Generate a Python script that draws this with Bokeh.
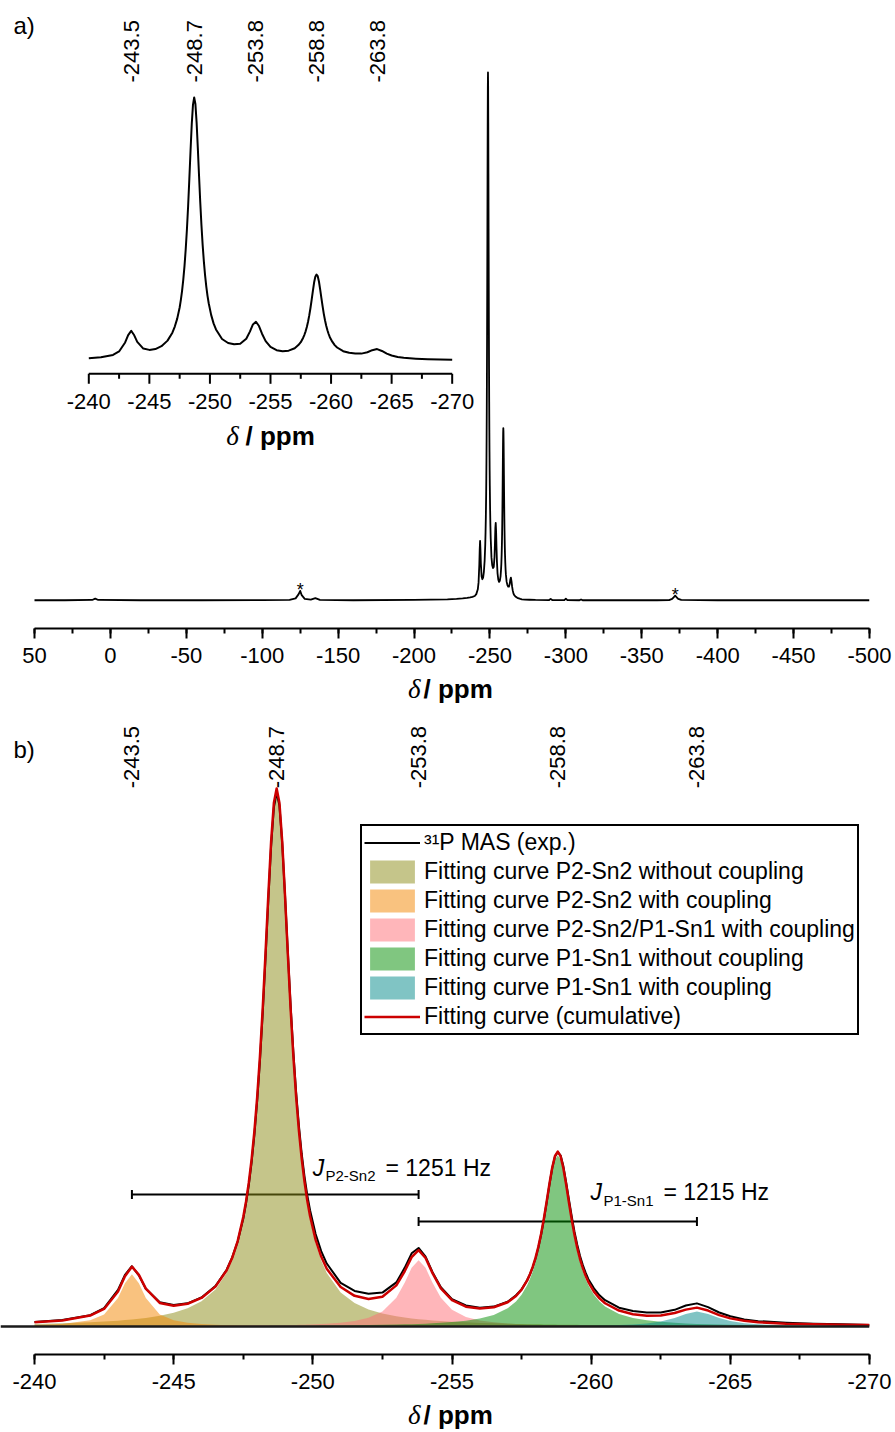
import numpy as np
from bokeh.plotting import figure
from bokeh.models import (Range1d, SingleIntervalTicker, Label, Legend, LegendItem,
                          Span, Whisker, ColumnDataSource, TeeHead, PrintfTickFormatter)
from bokeh.layouts import column
from bokeh.core.properties import value
from bokeh.embed import file_html
from bokeh.resources import INLINE

SANS = "Liberation Sans"
SERIF = "Liberation Serif"
W = 893

# ---------------- data ----------------
# chemical shift grid of the -240 ... -270 ppm region (ppm)
shift_b = [-240, -241, -242, -242.5, -243, -243.25, -243.5, -243.75, -244, -244.5, -245, -245.5, -246,
           -246.5, -246.9, -247.1, -247.3, -247.5, -247.6, -247.7, -247.8, -247.9, -248.0, -248.1,
           -248.2, -248.3, -248.4, -248.5, -248.6, -248.7, -248.8, -248.9, -249.0, -249.1, -249.2,
           -249.3, -249.4, -249.5, -249.6, -249.7, -249.8, -249.9, -250.1, -250.3, -250.5, -251,
           -251.5, -252, -252.5, -253, -253.3, -253.55, -253.8, -254.05, -254.3, -254.6, -255,
           -255.5, -256, -256.5,
           -257, -257.3, -257.5, -257.7, -257.8, -257.9, -258.0, -258.1, -258.2, -258.3, -258.4,
           -258.5, -258.6, -258.7, -258.8, -258.9, -259.0, -259.1, -259.2, -259.3, -259.4, -259.5,
           -259.6, -259.7, -259.8, -259.9, -260.1, -260.3, -260.5,
           -261, -261.5, -262, -262.5, -263, -263.4, -263.8, -264.2, -264.6, -265, -265.5, -266,
           -267, -268, -269, -270]

# experimental 31P MAS intensity (normalised)
exp_b = [0.85, 1.2, 2.1, 3.4, 6.8, 9.6, 11.2, 9.5, 7.0, 4.5, 4.0, 4.3, 5.4,
         7.5, 10.5, 12.8, 15.8, 20.0, 22.9, 26.3, 30.5, 35.6, 41.9, 49.4,
         58.3, 68.5, 79.2, 89.2, 96.4, 99.2, 96.8, 89.8, 80.2, 69.8, 59.8,
         51.0, 43.5, 37.3, 32.1, 27.9, 24.4, 21.6, 17.2, 14.0, 11.7, 8.1,
         6.6, 6.1, 6.3, 8.2, 10.9, 13.6, 14.6, 13.0, 10.1, 7.3, 5.1,
         3.9, 3.5, 3.7,
         4.6, 5.8, 6.9, 8.6, 9.7, 11.0, 12.6, 14.6, 17.0, 19.8, 23.0,
         26.3, 29.4, 31.6, 32.4, 31.8, 29.8, 26.8, 23.6, 20.5, 17.6, 15.2,
         13.1, 11.4, 10.0, 8.8, 7.1, 5.8, 4.9,
         3.5, 2.9, 2.6, 2.6, 3.1, 3.9, 4.3, 3.6, 2.6, 1.9, 1.3, 1.0,
         0.7, 0.5, 0.4, 0.3]

# cumulative fitting curve
fit_total = [0.78, 1.13, 2.03, 3.27, 6.51, 9.34, 11.12, 9.60, 7.03, 4.38, 3.85, 4.23, 5.31,
             7.41, 10.42, 12.72, 15.88, 20.33, 23.24, 26.77, 31.05, 36.25, 42.57, 50.19,
             59.16, 69.32, 80.05, 90.00, 97.27, 99.96, 97.28, 90.03, 80.09, 69.38, 59.23,
             50.27, 42.68, 36.37, 31.18, 26.92, 23.41, 20.52, 16.10, 12.99, 10.73, 7.33,
             5.70, 5.12, 5.54, 7.64, 10.26, 12.90, 14.19, 12.73, 9.92, 7.08, 4.89,
             3.69, 3.34, 3.57,
             4.51, 5.66, 6.85, 8.57, 9.70, 11.08, 12.75, 14.78, 17.20, 20.03, 23.20,
             26.50, 29.51, 31.69, 32.49, 31.66, 29.46, 26.42, 23.09, 19.90, 17.05, 14.60,
             12.54, 10.84, 9.43, 8.27, 6.48, 5.23, 4.32,
             2.96, 2.29, 2.01, 2.05, 2.50, 3.14, 3.51, 2.96, 2.12, 1.51, 1.06, 0.80,
             0.53, 0.40, 0.32, 0.26]

# component: P2-Sn2 without coupling
fit_p2sn2 = [0.47, 0.60, 0.79, 0.92, 1.09, 1.19, 1.31, 1.44, 1.60, 1.99, 2.55, 3.38, 4.68,
             6.89, 9.95, 12.27, 15.44, 19.9, 22.81, 26.34, 30.62, 35.82, 42.14, 49.75,
             58.72, 68.88, 79.6, 89.55, 96.81, 99.5, 96.81, 89.55, 79.6, 68.88, 58.72,
             49.75, 42.14, 35.82, 30.62, 26.34, 22.81, 19.9, 15.44, 12.27, 9.95, 6.34,
             4.37, 3.18, 2.42, 1.90, 1.66, 1.50, 1.36, 1.24, 1.13, 1.02, 0.89,
             0.77, 0.67, 0.59,
             0.52, 0.48, 0.46, 0.44, 0.43, 0.42, 0.41, 0.40, 0.40, 0.39, 0.38,
             0.37, 0.36, 0.36, 0.35, 0.34, 0.34, 0.33, 0.32, 0.32, 0.31, 0.31,
             0.30, 0.30, 0.29, 0.29, 0.28, 0.27, 0.26,
             0.24, 0.22, 0.20, 0.19, 0.18, 0.17, 0.16, 0.15, 0.14, 0.14, 0.13, 0.12,
             0.11, 0.10, 0.09, 0.08]

# component: P2-Sn2 with coupling
fit_p2sn2_coupl = [0.23, 0.45, 1.15, 2.25, 5.31, 8.04, 9.7, 8.04, 5.31, 2.25, 1.15, 0.68, 0.45,
                   0.32, 0.25, 0.22, 0.20, 0.18, 0.17, 0.16, 0.16, 0.15, 0.14, 0.14,
                   0.13, 0.13, 0.12, 0.12, 0.11, 0.11, 0.10, 0.10, 0.10, 0.09, 0.09,
                   0.09, 0.08, 0.08, 0.08, 0.08, 0.07, 0.07, 0.07, 0.06, 0.06, 0.05,
                   0.05, 0.04, 0.04, 0.03, 0.03, 0.03, 0.03, 0.03, 0.03, 0.02, 0.02,
                   0.02, 0.02, 0.02,
                   0.02, 0.02, 0.02, 0.02, 0.02, 0.02, 0.01, 0.01, 0.01, 0.01, 0.01,
                   0.01, 0.01, 0.01, 0.01, 0.01, 0.01, 0.01, 0.01, 0.01, 0.01, 0.01,
                   0.01, 0.01, 0.01, 0.01, 0.01, 0.01, 0.01,
                   0.01, 0.01, 0.01, 0.01, 0.01, 0.01, 0.01, 0.01, 0.01, 0.01, 0.01, 0.01,
                   0.01, 0.00, 0.00, 0.00]

# component: P2-Sn2/P1-Sn1 with coupling
fit_mixed_coupl = [0.03, 0.04, 0.04, 0.05, 0.05, 0.05, 0.06, 0.06, 0.06, 0.07, 0.08, 0.09, 0.10,
                   0.11, 0.13, 0.13, 0.14, 0.15, 0.16, 0.16, 0.17, 0.17, 0.18, 0.18,
                   0.19, 0.20, 0.20, 0.21, 0.22, 0.23, 0.24, 0.25, 0.26, 0.27, 0.28,
                   0.29, 0.30, 0.32, 0.33, 0.35, 0.37, 0.38, 0.43, 0.47, 0.53, 0.72,
                   1.04, 1.62, 2.77, 5.33, 8.15, 10.91, 12.3, 10.91, 8.15, 5.33, 3.12,
                   1.78, 1.13, 0.78,
                   0.56, 0.47, 0.43, 0.38, 0.37, 0.35, 0.33, 0.32, 0.30, 0.29, 0.28,
                   0.27, 0.26, 0.25, 0.24, 0.23, 0.22, 0.21, 0.20, 0.20, 0.19, 0.18,
                   0.18, 0.17, 0.17, 0.16, 0.15, 0.14, 0.13,
                   0.12, 0.10, 0.09, 0.08, 0.07, 0.07, 0.06, 0.06, 0.05, 0.05, 0.04, 0.04,
                   0.03, 0.03, 0.03, 0.02]

# component: P1-Sn1 without coupling
fit_p1sn1 = [0.04, 0.04, 0.04, 0.05, 0.05, 0.05, 0.05, 0.05, 0.06, 0.06, 0.06, 0.07, 0.07,
             0.08, 0.09, 0.09, 0.09, 0.10, 0.10, 0.10, 0.10, 0.10, 0.10, 0.11,
             0.11, 0.11, 0.11, 0.12, 0.12, 0.12, 0.12, 0.13, 0.13, 0.13, 0.13,
             0.14, 0.14, 0.14, 0.14, 0.15, 0.15, 0.15, 0.16, 0.17, 0.18, 0.20,
             0.23, 0.26, 0.31, 0.36, 0.40, 0.44, 0.48, 0.53, 0.59, 0.68, 0.83,
             1.08, 1.49, 2.15,
             3.37, 4.64, 5.89, 7.67, 8.83, 10.23, 11.93, 13.98, 16.42, 19.27, 22.45,
             25.77, 28.80, 30.99, 31.8, 30.99, 28.80, 25.77, 22.45, 19.27, 16.42, 13.98,
             11.93, 10.23, 8.83, 7.67, 5.89, 4.64, 3.73,
             2.34, 1.59, 1.15, 0.87, 0.68, 0.57, 0.48, 0.41, 0.36, 0.32, 0.27, 0.23,
             0.18, 0.14, 0.12, 0.10]

# component: P1-Sn1 with coupling
fit_p1sn1_coupl = [0.00, 0.00, 0.00, 0.00, 0.01, 0.01, 0.01, 0.01, 0.01, 0.01, 0.01, 0.01, 0.01,
                   0.01, 0.01, 0.01, 0.01, 0.01, 0.01, 0.01, 0.01, 0.01, 0.01, 0.01,
                   0.01, 0.01, 0.01, 0.01, 0.01, 0.01, 0.01, 0.01, 0.01, 0.01, 0.01,
                   0.01, 0.01, 0.01, 0.01, 0.01, 0.01, 0.01, 0.01, 0.01, 0.01, 0.01,
                   0.01, 0.02, 0.02, 0.02, 0.02, 0.02, 0.02, 0.02, 0.02, 0.03, 0.03,
                   0.03, 0.04, 0.04,
                   0.05, 0.05, 0.06, 0.06, 0.06, 0.06, 0.07, 0.07, 0.07, 0.07, 0.08,
                   0.08, 0.08, 0.09, 0.09, 0.09, 0.10, 0.10, 0.10, 0.11, 0.11, 0.12,
                   0.12, 0.13, 0.14, 0.14, 0.16, 0.17, 0.19,
                   0.26, 0.37, 0.56, 0.91, 1.56, 2.34, 2.8, 2.34, 1.56, 1.01, 0.61, 0.40,
                   0.21, 0.12, 0.08, 0.06]

# wide-range spectrum outside the main cluster (panel a)
shift_wide_left = [50, 30, 12, 10, 8, -20, -60, -100, -118, -122, -124, -125, -126,
                   -128, -132, -135, -138, -160, -200, -222, -228, -232, -235, -237, -238.5]
int_wide_left = [0.05, 0.05, 0.1, 0.35, 0.1, 0.05, 0.05, 0.08, 0.1, 0.4, 1.2, 1.8, 1.0,
                 0.3, 0.15, 0.45, 0.12, 0.05, 0.1, 0.2, 0.3, 0.4, 0.5, 0.6, 0.7]
shift_wide_right = [-271, -273, -276, -280, -289, -290, -291, -299, -300, -301, -309, -310,
                    -311, -330, -360, -368, -370, -371, -372, -373, -374, -376, -400, -450, -500]
int_wide_right = [0.22, 0.18, 0.14, 0.1, 0.08, 0.3, 0.08, 0.08, 0.35, 0.08, 0.05, 0.2,
                  0.05, 0.05, 0.05, 0.08, 0.3, 0.6, 0.9, 0.6, 0.3, 0.1, 0.05, 0.05, 0.05]

# spinning sidebands (asterisks)
sideband_shifts = [-125, -372]
sideband_heights = [1.8, 0.9]

# peak labels
peak_shifts = [-243.5, -248.7, -253.8, -258.8, -263.8]
peak_labels = ["-243.5", "-248.7", "-253.8", "-258.8", "-263.8"]

# axes
axis_a_bounds = (-500, 50)
axis_b_bounds = (-270, -240)
inset_major = [-240, -245, -250, -255, -260, -265, -270]
inset_minor = [-242.5, -247.5, -252.5, -257.5, -262.5, -267.5]

# J couplings
coupling_from = [-243.5, -253.8]
coupling_to = [-253.8, -263.8]
coupling_level = [24.53, 19.51]
coupling_names = ["P2-Sn2", "P1-Sn1"]
coupling_values = ["= 1251 Hz", "= 1215 Hz"]

legend_labels = ["\u00b3\u00b9P MAS (exp.)",
                 "Fitting curve P2-Sn2 without coupling",
                 "Fitting curve P2-Sn2 with coupling",
                 "Fitting curve P2-Sn2/P1-Sn1 with coupling",
                 "Fitting curve P1-Sn1 without coupling",
                 "Fitting curve P1-Sn1 with coupling",
                 "Fitting curve (cumulative)"]
fill_colors = ["#8B8B15", "#F38500", "#FF6D75", "#018D01", "#018989"]


def style_axis(p, interval, bounds):
    ax = p.xaxis[0]
    ax.ticker = SingleIntervalTicker(interval=interval, num_minor_ticks=2)
    ax.formatter = PrintfTickFormatter(format="%d")
    ax.bounds = bounds
    ax.axis_line_width = 2
    ax.axis_line_color = "black"
    ax.major_tick_in = 0
    ax.major_tick_out = 10
    ax.minor_tick_in = 0
    ax.minor_tick_out = 5
    ax.major_tick_line_width = 2
    ax.minor_tick_line_width = 2
    ax.major_tick_line_color = "black"
    ax.minor_tick_line_color = "black"
    ax.major_label_text_font = SANS
    ax.major_label_text_font_size = "22px"
    ax.major_label_text_color = "black"
    ax.major_label_standoff = 9
    ax.axis_label = None


def title_fig(height, mid):
    f = figure(width=W, height=height, x_range=Range1d(0, 869), y_range=Range1d(0, height),
               x_axis_type=None, y_axis_type=None, title=None, output_backend="svg",
               toolbar_location=None, min_border_left=0, min_border_right=24,
               min_border_top=0, min_border_bottom=0)
    f.outline_line_color = None
    f.grid.visible = False
    f.add_layout(Label(x=420, y=mid, text="\u03b4", text_font=SERIF, text_font_style="italic",
                       text_font_size="27px", text_align="right", text_baseline="middle",
                       text_color="black"))
    f.add_layout(Label(x=423, y=mid, text="/ ppm", text_font=SANS, text_font_style="bold",
                       text_font_size="26px", text_align="left", text_baseline="middle",
                       text_color="black"))
    return f


# ---------------- panel a ----------------
pa = figure(width=W, height=672, x_range=Range1d(72.395, -500), y_range=Range1d(-5.26, 112.73),
            y_axis_type=None, title=None, output_backend="svg", toolbar_location=None,
            min_border_left=0, min_border_right=24, min_border_top=0, min_border_bottom=44)
pa.outline_line_color = None
pa.grid.visible = False
style_axis(pa, 50, axis_a_bounds)

shift_main = shift_wide_left + shift_b + shift_wide_right
int_main = int_wide_left + exp_b + int_wide_right
pa.line(shift_main, int_main, line_color="black", line_width=1.8, line_join="round")
pa.text(x=sideband_shifts, y=sideband_heights, text=["*"] * len(sideband_shifts),
        text_align="center", text_baseline="middle", y_offset=-1,
        text_font=value(SANS), text_font_size="18px", text_color="black")

# inset drawn on extra ranges
pa.extra_x_ranges = {"inset": Range1d(-232.710, -304.452)}
pa.extra_y_ranges = {"inset": Range1d(-101.09, 135.79)}
INS = dict(x_range_name="inset", y_range_name="inset")
pa.line(shift_b, exp_b, line_color="black", line_width=2, line_join="round", **INS)

AXY = -5.02
MAJ = 3.77
MIN = 1.89
pa.segment(x0=[inset_major[0]], x1=[inset_major[-1]], y0=[AXY], y1=[AXY],
           line_color="black", line_width=2, **INS)
pa.segment(x0=inset_major, x1=inset_major, y0=[AXY] * len(inset_major),
           y1=[AXY - MAJ] * len(inset_major), line_color="black", line_width=2, **INS)
pa.segment(x0=inset_minor, x1=inset_minor, y0=[AXY] * len(inset_minor),
           y1=[AXY - MIN] * len(inset_minor), line_color="black", line_width=2, **INS)
pa.text(x=inset_major, y=[-15.65] * len(inset_major), text=[f"{t:g}" for t in inset_major],
        text_align="center", text_baseline="middle", text_font=value(SANS),
        text_font_size="22px", text_color="black", **INS)
pa.text(x=[-252.383], y=[-28.36], text=["\u03b4"], text_align="right", text_baseline="middle",
        text_font=value(SERIF), text_font_style="italic", text_font_size="27px",
        text_color="black", **INS)
pa.text(x=[-252.937], y=[-28.36], text=["/ ppm"], text_align="left", text_baseline="middle",
        text_font=value(SANS), text_font_style="bold", text_font_size="26px",
        text_color="black", **INS)
pa.text(x=peak_shifts, y=[104.86] * len(peak_shifts), text=peak_labels, angle=np.pi / 2,
        text_align="left", text_baseline="middle", text_font=value(SANS),
        text_font_size="22px", text_color="black", **INS)

pa.add_layout(Label(x=63.83, y=108.1, text="a)", text_font=SANS, text_font_size="24px",
                    text_align="left", text_baseline="middle", text_color="black"))

ta = title_fig(40, 23.6)

# ---------------- panel b ----------------
pb = figure(width=W, height=686, x_range=Range1d(-238.7784, -270), y_range=Range1d(-5.20, 114.08),
            y_axis_type=None, title=None, output_backend="svg", toolbar_location=None,
            min_border_left=0, min_border_right=24, min_border_top=0, min_border_bottom=44)
pb.outline_line_color = None
pb.grid.visible = False
style_axis(pb, 5, axis_b_bounds)

components = [fit_p2sn2, fit_p2sn2_coupl, fit_mixed_coupl, fit_p1sn1, fit_p1sn1_coupl]
fill_renderers = []
for comp, col in zip(components, fill_colors):
    fill_renderers.append(pb.varea(x=shift_b, y1=0, y2=comp, fill_color=col, fill_alpha=0.5))

pb.add_layout(Span(location=0, dimension="width", line_color="#1a1a1a", line_width=2.5))
r_exp = pb.line(shift_b, exp_b, line_color="black", line_width=2, line_join="round")
r_fit = pb.line(shift_b, fit_total, line_color="#CC0000", line_width=2.5, line_join="round")

src = ColumnDataSource(dict(base=coupling_level, lower=coupling_from, upper=coupling_to))
pb.add_layout(Whisker(source=src, base="base", lower="lower", upper="upper", dimension="width",
                      line_color="black", line_width=2,
                      lower_head=TeeHead(size=9, line_width=2, line_color="black"),
                      upper_head=TeeHead(size=9, line_width=2, line_color="black")))

j_pos = [(-250.0, -250.455, -252.611, 29.54, 28.10), (-259.976, -260.443, -262.599, 24.90, 23.46)]
for (xj, xs, xe, yb, ys), name, val in zip(j_pos, coupling_names, coupling_values):
    pb.add_layout(Label(x=xj, y=yb, text="J", text_font=SANS, text_font_style="italic",
                        text_font_size="23px", text_baseline="middle", text_color="black"))
    pb.add_layout(Label(x=xs, y=ys, text=name, text_font=SANS, text_font_size="15px",
                        text_baseline="middle", text_color="black"))
    pb.add_layout(Label(x=xe, y=yb, text=val, text_font=SANS, text_font_size="23px",
                        text_baseline="middle", text_color="black"))

pb.text(x=peak_shifts, y=[100.0] * len(peak_shifts), text=peak_labels, angle=np.pi / 2,
        text_align="left", text_baseline="middle", text_font=value(SANS),
        text_font_size="22px", text_color="black")

renderers = [r_exp] + fill_renderers + [r_fit]
legend = Legend(items=[LegendItem(label=l, renderers=[r]) for l, r in zip(legend_labels, renderers)],
                location=(360, 319), orientation="vertical",
                label_text_font=SANS, label_text_font_size="23px", label_text_color="black",
                glyph_width=56, glyph_height=29, label_height=29, spacing=0, padding=2,
                margin=0, label_standoff=4, border_line_color="black", border_line_width=2,
                border_line_alpha=1, background_fill_color="white", background_fill_alpha=1)
pb.add_layout(legend)

pb.add_layout(Label(x=-239.2455, y=107.28, text="b)", text_font=SANS, text_font_size="24px",
                    text_align="left", text_baseline="middle", text_color="black"))

tb = title_fig(33, 16.6)

layout = column(pa, ta, pb, tb)
open("out.html", "w").write(file_html(layout, INLINE))
